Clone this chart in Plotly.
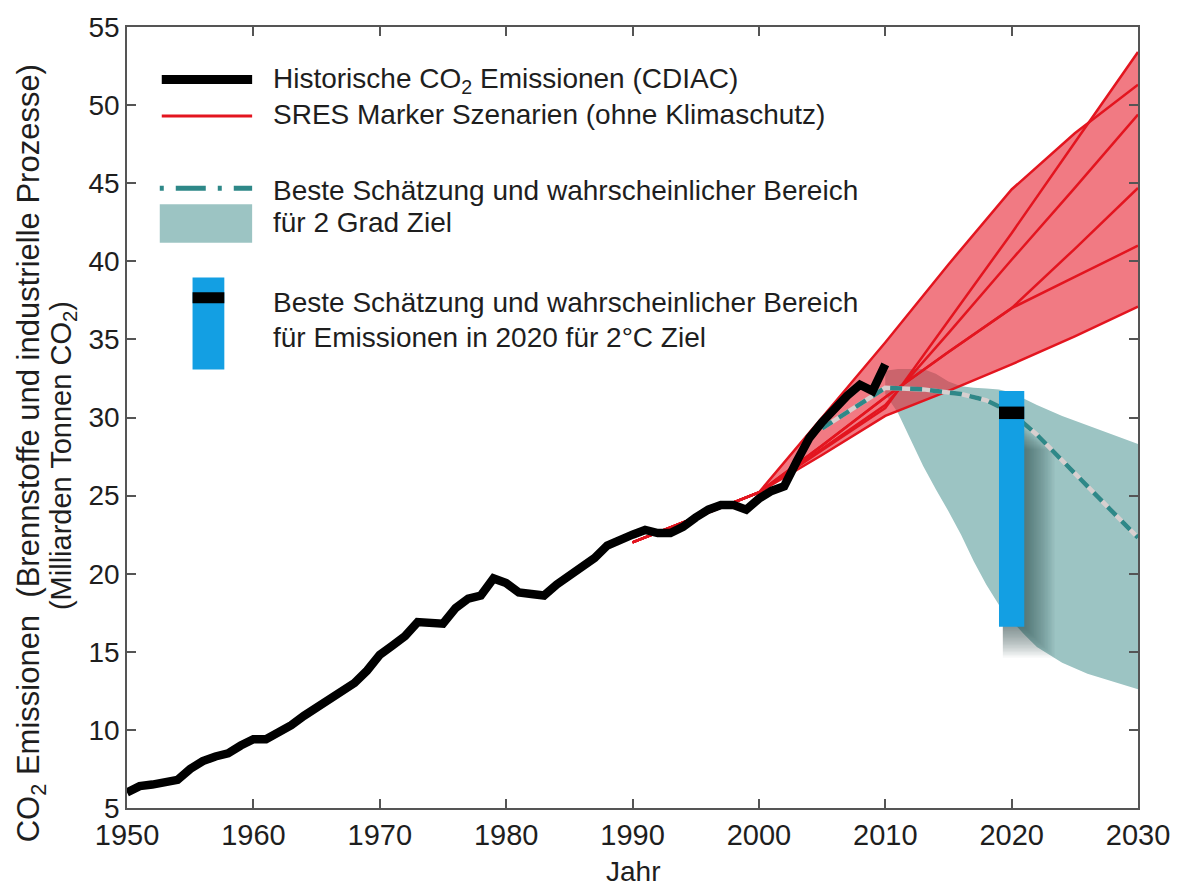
import numpy as np
import plotly.graph_objects as go

# ---------------- data ----------------
hist_years = list(range(1950, 2011))
hist_co2 = [6.0, 6.4, 6.5, 6.7, 6.8, 7.5, 8.0, 8.3, 8.5, 9.0,
            9.4, 9.4, 9.8, 10.3, 10.9, 11.4, 11.9, 12.4, 13.0, 13.8,
            14.8, 15.4, 16.0, 16.9, 16.9, 16.8, 17.8, 18.4, 18.6, 19.7,
            19.4, 18.8, 18.7, 18.6, 19.3, 19.9, 20.5, 21.0, 21.8, 22.2,
            22.5, 22.8, 22.6, 22.6, 23.0, 23.6, 24.1, 24.4, 24.4, 24.1,
            24.8, 25.3, 25.6, 27.2, 28.7, 29.7, 30.6, 31.4, 32.1, 31.7,
            33.4]

sres_years = [1990, 2000, 2005, 2010, 2015, 2020, 2025, 2030]
sres_A1B = [22.0, 25.2, 30.0, 34.8, 39.8, 44.6, 48.2, 51.3]
sres_A1FI = [22.0, 25.2, 27.9, 30.6, 36.2, 41.8, 47.6, 53.4]
sres_A2 = [22.0, 25.2, 28.0, 30.8, 35.4, 40.1, 44.7, 49.4]
sres_A1T = [22.0, 25.2, 28.2, 31.3, 34.2, 37.0, 40.8, 44.7]
sres_B2 = [22.0, 25.2, 28.2, 31.3, 34.2, 37.0, 39.0, 41.0]
sres_B1 = [22.0, 25.2, 27.6, 30.1, 31.7, 33.4, 35.2, 37.1]
sres_all = [sres_A1B, sres_A1FI, sres_A2, sres_A1T, sres_B2, sres_B1]

band_years = [2010, 2011, 2012, 2013, 2014, 2015, 2016, 2017, 2018, 2019,
              2020, 2021, 2022, 2024, 2026, 2028, 2030]
band_upper = [33.0, 33.1, 33.1, 33.1, 32.8, 32.3, 32.0, 31.9, 31.85, 31.8,
              31.6, 31.2, 30.8, 30.1, 29.5, 28.9, 28.3]
band_lower = [31.5, 30.3, 28.6, 26.9, 25.4, 24.0, 22.5, 20.8, 19.3, 18.0,
              17.0, 16.1, 15.3, 14.3, 13.6, 13.1, 12.6]

best_years = [2005, 2010, 2013, 2016, 2018, 2020, 2022, 2025, 2030]
best_vals = [29.3, 31.9, 31.8, 31.5, 31.1, 30.3, 28.9, 26.4, 22.3]

bar_year = 2020
bar_low = 16.6
bar_high = 31.7
bar_best = 30.3

x_ticks = [1950, 1960, 1970, 1980, 1990, 2000, 2010, 2020, 2030]
y_ticks = [5, 10, 15, 20, 25, 30, 35, 40, 45, 50, 55]

# ---------------- styles ----------------
FONT = "Liberation Sans, Arial, Helvetica, sans-serif"
TXT = "#1e1e1e"
RED = "#E3151F"
RED_FILL = "rgba(232,40,55,0.62)"
TEAL_FILL = "#9CC4C3"
TEAL = "#2E8888"
BLUE = "#139FE3"
AX = "#555555"

W, H = 1182, 887
L, R, T, B = 127, 37, 19, 79
PW, PH = W - L - R, H - T - B


def px_x(px):
    return (px - L) / PW


def px_y(py):
    return (H - B - py) / PH


fig = go.Figure()

# teal 2-degree band
fig.add_trace(go.Scatter(
    x=band_years + band_years[::-1], y=band_upper + band_lower[::-1],
    fill="toself", fillcolor=TEAL_FILL, line=dict(width=0), mode="lines",
    hoverinfo="skip", showlegend=False))

# soft shadow of the 2020 bar (derived from bar data)
half_w = 1.0
n_layers = 22
for k in range(1, n_layers + 1):
    xr = bar_year + half_w + 0.11 * k
    yb = bar_low - 0.09 * k
    yt = bar_best - 0.8 - 0.07 * k
    xl = bar_year - half_w + 0.3
    fig.add_trace(go.Scatter(
        x=[xl, xr, xr, xl, xl], y=[yb, yb, yt, yt, yb],
        fill="toself", fillcolor="rgba(40,50,50,0.03)", line=dict(width=0),
        mode="lines", hoverinfo="skip", showlegend=False))

# red SRES envelope
grid = np.arange(1990, 2030.001, 0.25)
curves = np.array([np.interp(grid, sres_years, s) for s in sres_all])
env_hi = curves.max(axis=0)
env_lo = curves.min(axis=0)
fig.add_trace(go.Scatter(
    x=list(grid) + list(grid[::-1]), y=list(env_hi) + list(env_lo[::-1]),
    fill="toself", fillcolor=RED_FILL, line=dict(width=0), mode="lines",
    hoverinfo="skip", showlegend=False))

for s in sres_all:
    fig.add_trace(go.Scatter(
        x=sres_years, y=s, mode="lines", line=dict(color=RED, width=2.5),
        showlegend=False))

# best estimate dashed line
fig.add_trace(go.Scatter(
    x=best_years, y=best_vals, mode="lines",
    line=dict(color="#D8CFCF", width=4.5), showlegend=False))
fig.add_trace(go.Scatter(
    x=best_years, y=best_vals, mode="lines",
    line=dict(color=TEAL, width=4.5, dash="12px,8px"), showlegend=False))

# historical emissions
fig.add_trace(go.Scatter(
    x=hist_years, y=hist_co2, mode="lines",
    line=dict(color="black", width=8.5), showlegend=False))

# 2020 bar
bx = [bar_year - half_w, bar_year + half_w, bar_year + half_w, bar_year - half_w, bar_year - half_w]
fig.add_trace(go.Scatter(
    x=bx, y=[bar_low, bar_low, bar_high, bar_high, bar_low], fill="toself",
    fillcolor=BLUE, line=dict(width=0), mode="lines", showlegend=False))
fig.add_trace(go.Scatter(
    x=bx, y=[bar_best - 0.4, bar_best - 0.4, bar_best + 0.4, bar_best + 0.4, bar_best - 0.4],
    fill="toself", fillcolor="black", line=dict(width=0), mode="lines",
    showlegend=False))

# ---------------- manual legend ----------------
shapes = []
shapes.append(dict(type="line", xref="paper", yref="paper",
                   x0=px_x(162), x1=px_x(253), y0=px_y(72), y1=px_y(72),
                   line=dict(color="black", width=9)))
shapes.append(dict(type="line", xref="paper", yref="paper",
                   x0=px_x(162), x1=px_x(253), y0=px_y(109), y1=px_y(109),
                   line=dict(color=RED, width=3)))
shapes.append(dict(type="line", xref="paper", yref="paper",
                   x0=px_x(160), x1=px_x(253), y0=px_y(182), y1=px_y(182),
                   line=dict(color=TEAL, width=5, dash="4px,12px,30px,12px")))
shapes.append(dict(type="rect", xref="paper", yref="paper",
                   x0=px_x(160), x1=px_x(253), y0=px_y(237), y1=px_y(198),
                   fillcolor=TEAL_FILL, line=dict(width=0)))
shapes.append(dict(type="rect", xref="paper", yref="paper",
                   x0=px_x(193), x1=px_x(225), y0=px_y(365), y1=px_y(272),
                   fillcolor=BLUE, line=dict(width=0)))
shapes.append(dict(type="rect", xref="paper", yref="paper",
                   x0=px_x(193), x1=px_x(225), y0=px_y(298), y1=px_y(287),
                   fillcolor="black", line=dict(width=0)))

legend_texts = [
    ("Historische CO<sub>2</sub> Emissionen (CDIAC)", 73),
    ("SRES Marker Szenarien (ohne Klimaschutz)", 107),
    ("Beste Schätzung und wahrscheinlicher Bereich", 184),
    ("für 2 Grad Ziel", 216),
    ("Beste Schätzung und wahrscheinlicher Bereich", 297),
    ("für Emissionen in 2020 für 2°C Ziel", 333),
]
annotations = []
for txt, py in legend_texts:
    annotations.append(dict(text=txt, xref="paper", yref="paper",
                            x=px_x(272), y=px_y(py), xanchor="left",
                            yanchor="middle", showarrow=False,
                            font=dict(family=FONT, size=28, color=TXT)))

# axis titles
annotations.append(dict(
    text="CO<sub>2</sub> Emissionen  (Brennstoffe und industrielle Prozesse)",
    xref="paper", yref="paper", x=px_x(30), y=px_y(450), textangle=-90,
    xanchor="center", yanchor="middle", showarrow=False,
    font=dict(family=FONT, size=31, color=TXT)))
annotations.append(dict(
    text="(Milliarden Tonnen CO<sub>2</sub>)",
    xref="paper", yref="paper", x=px_x(62), y=px_y(452), textangle=-90,
    xanchor="center", yanchor="middle", showarrow=False,
    font=dict(family=FONT, size=29, color=TXT)))
annotations.append(dict(
    text="Jahr", xref="paper", yref="paper", x=0.5, y=px_y(872),
    xanchor="center", yanchor="middle", showarrow=False,
    font=dict(family=FONT, size=28, color=TXT)))

fig.update_layout(
    width=W, height=H,
    margin=dict(l=L, r=R, t=T, b=B, pad=0),
    paper_bgcolor="white", plot_bgcolor="white",
    font=dict(family=FONT, size=28, color=TXT),
    shapes=shapes, annotations=annotations, showlegend=False,
)
fig.update_xaxes(
    range=[1950, 2030], tickvals=x_ticks, ticktext=[str(v) for v in x_ticks],
    ticks="inside", ticklen=9, tickwidth=1.5, tickcolor=AX,
    showline=True, linecolor=AX, linewidth=1.5, mirror="ticks",
    showgrid=False, zeroline=False, tickfont=dict(size=29))
fig.update_yaxes(
    range=[5, 55], tickvals=y_ticks, ticktext=[str(v) for v in y_ticks],
    ticks="inside", ticklen=9, tickwidth=1.5, tickcolor=AX,
    showline=True, linecolor=AX, linewidth=1.5, mirror="ticks",
    showgrid=False, zeroline=False, tickfont=dict(size=28))

fig.write_html("out.html")
